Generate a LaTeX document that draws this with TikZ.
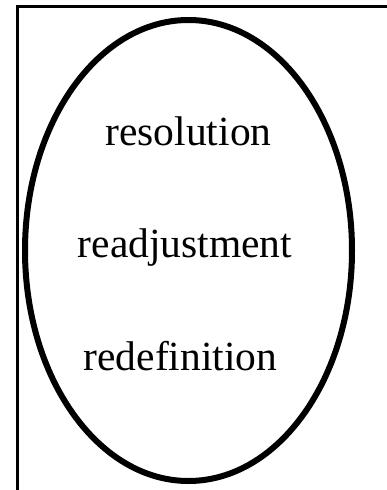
\documentclass[tikz,border=0pt]{standalone}
\usepackage{fontspec}
\setmainfont{Liberation Serif}
\begin{document}
\begin{tikzpicture}[x=1pt,y=-1pt,
  frameline/.style={line width=3pt,line cap=rect},
  oval/.style={line width=6pt},
  word/.style={anchor=base,inner sep=0pt,font=\fontsize{41.5}{50}\selectfont}]
  \useasboundingbox (0,0) rectangle (386,490);
  % open frame: left and top sides only
  \coordinate (fbl) at (17.5,492);
  \coordinate (ftl) at (17.5,6.5);
  \coordinate (ftr) at (388,6.5);
  \draw[frameline] (fbl) -- (ftl) -- (ftr);
  % the oval
  \coordinate (c) at (188.5,250.5);
  \draw[oval] (c) ellipse [x radius=163.5, y radius=230.5];
  % three stacked words
  \node[word] (res) at (188.5,145) {resolution};
  \node[word] (rea) at (185,257) {readjustment};
  \node[word] (red) at (180.5,370) {redefinition};
\end{tikzpicture}
\end{document}
